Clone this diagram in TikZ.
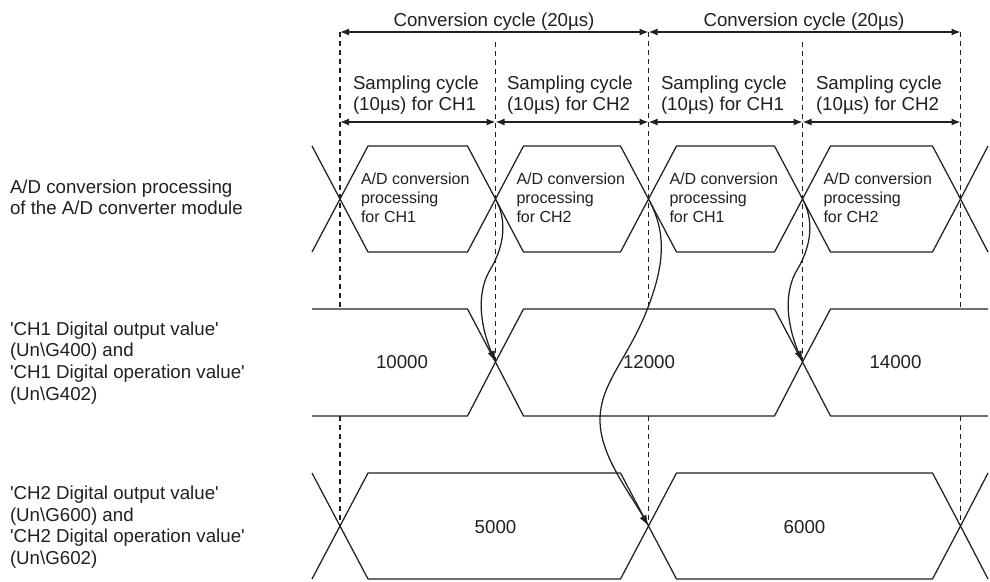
\documentclass[tikz,border=0pt]{standalone}
\usepackage{fontspec}
\setmainfont{Liberation Sans}
\usetikzlibrary{arrows.meta}
\definecolor{ink}{RGB}{35,31,32}
\newcommand{\sq}{\textquotesingle}
\begin{document}
\begin{tikzpicture}[x=1pt,y=-1pt, line width=1.25pt, ink, line join=round,
  every node/.style={inner sep=0pt, outer sep=0pt, text=ink},
  big/.style={font=\fontsize{18.7}{21.7}\selectfont},
  small/.style={font=\fontsize{16}{19.3}\selectfont},
  guide/.style={dash pattern=on 5pt off 4pt, line width=1.2pt},
  dim/.style={{Latex[length=9pt,width=7pt]}-{Latex[length=9pt,width=7pt]}},
  flow/.style={-{Latex[length=11pt,width=7.5pt]}}
]
\useasboundingbox (0,0) rectangle (990,581);

% guide positions
\coordinate (t1) at (340,32);   \coordinate (t3) at (648.5,32);  \coordinate (t5) at (960.5,32);
\coordinate (t2) at (495.5,42); \coordinate (t4) at (802.5,42);
\coordinate (s1) at (340,122);  \coordinate (s2) at (495.5,122); \coordinate (s3) at (648.5,122);
\coordinate (s4) at (802.5,122); \coordinate (s5) at (960.5,122);
% crossings
\coordinate (h1) at (340,199);  \coordinate (h2) at (495.5,199); \coordinate (h3) at (648.5,199);
\coordinate (h4) at (802.5,199); \coordinate (h5) at (960.5,199);
\coordinate (a2) at (495.5,362); \coordinate (a4) at (802.5,362);
\coordinate (b1) at (340,526);  \coordinate (b3) at (648.5,526); \coordinate (b5) at (960.5,526);

% dashed guides
\foreach \c in {t1,t3,t5}{
  \draw[guide] (\c) -- (\c |- 0,309);
  \draw[guide] (\c |- 0,416) -- (\c |- 0,526);
}
\draw[guide] (t2) -- (a2);
\draw[guide] (t4) -- (a4);

% dimension arrows
\draw[dim] (t1) -- (t3);
\draw[dim] (t3) -- (t5);
\draw[dim] (s1) -- (s2);
\draw[dim] (s2) -- (s3);
\draw[dim] (s3) -- (s4);
\draw[dim] (s4) -- (s5);

\node[big, anchor=base] (conv1) at (494,26.7) {Conversion cycle (20µs)};
\node[big, anchor=base] (conv2) at (804,26.7) {Conversion cycle (20µs)};
\node[big, anchor=north west, align=left] (samp1) at (353,75.6) {Sampling cycle\\(10µs) for CH1};
\node[big, anchor=north west, align=left] (samp2) at (507,75.6) {Sampling cycle\\(10µs) for CH2};
\node[big, anchor=north west, align=left] (samp3) at (661,75.6) {Sampling cycle\\(10µs) for CH1};
\node[big, anchor=north west, align=left] (samp4) at (816,75.6) {Sampling cycle\\(10µs) for CH2};

% A/D conversion row
\foreach \a/\b in {340/495.5, 495.5/648.5, 648.5/802.5, 802.5/960.5}
  \draw (\a,199) -- (\a+28,146) -- (\b-28,146) -- (\b,199) -- (\b-28,252) -- (\a+28,252) -- cycle;
\draw (312,146) -- (h1) -- (312,252);
\draw (988,146) -- (h5) -- (988,252);
\node[small, anchor=north west, align=left] (ad1) at (361,172.6) {A/D conversion\\processing\\for CH1};
\node[small, anchor=north west, align=left] (ad2) at (516.5,172.6) {A/D conversion\\processing\\for CH2};
\node[small, anchor=north west, align=left] (ad3) at (669.5,172.6) {A/D conversion\\processing\\for CH1};
\node[small, anchor=north west, align=left] (ad4) at (823.5,172.6) {A/D conversion\\processing\\for CH2};

% CH1 row
\draw (312,309) -- (467.5,309) -- (a2) -- (467.5,416) -- (312,416);
\draw (a2) -- (523.5,309) -- (774.5,309) -- (a4) -- (774.5,416) -- (523.5,416) -- cycle;
\draw (988,309) -- (830.5,309) -- (a4) -- (830.5,416) -- (988,416);
\node[big, anchor=base] (v1) at (402,368.3) {10000};
\node[big, anchor=base] (v2) at (649,368.3) {12000};
\node[big, anchor=base] (v3) at (895.5,368.3) {14000};

% CH2 row
\draw (312,473) -- (b1) -- (312,579);
\draw (b1) -- (368,473) -- (620.5,473) -- (b3) -- (620.5,579) -- (368,579) -- cycle;
\draw (b3) -- (676.5,473) -- (932.5,473) -- (b5) -- (932.5,579) -- (676.5,579) -- cycle;
\draw (988,473) -- (b5) -- (988,579);
\node[big, anchor=base] (w1) at (495.5,533.3) {5000};
\node[big, anchor=base] (w2) at (804.5,533.3) {6000};

% curved arrows
\coordinate (m1) at (490,270);
\draw[flow] (h2) .. controls (507,220) and (505,245) .. (m1)
               .. controls (478,290) and (478,320) .. (a2);
\coordinate (m2) at (645,315);
\coordinate (m3) at (600,420);
\draw[flow] (h3) .. controls (668,235) and (664,268) .. (m2)
               .. controls (625,362) and (600,385) .. (m3)
               .. controls (600,455) and (628,490) .. (b3);
\coordinate (m4) at (797,270);
\draw[flow] (h4) .. controls (814,220) and (812,245) .. (m4)
               .. controls (785,290) and (785,320) .. (a4);

% left labels
\node[big, anchor=north west, align=left] (lab1) at (10,179.6) {A/D conversion processing\\of the A/D converter module};
\node[big, anchor=north west, align=left] (lab2) at (10,321.6) {\sq CH1 Digital output value\sq\\(Un\textbackslash G400) and\\\sq CH1 Digital operation value\sq\\(Un\textbackslash G402)};
\node[big, anchor=north west, align=left] (lab3) at (10,486) {\sq CH2 Digital output value\sq\\(Un\textbackslash G600) and\\\sq CH2 Digital operation value\sq\\(Un\textbackslash G602)};
\end{tikzpicture}
\end{document}
